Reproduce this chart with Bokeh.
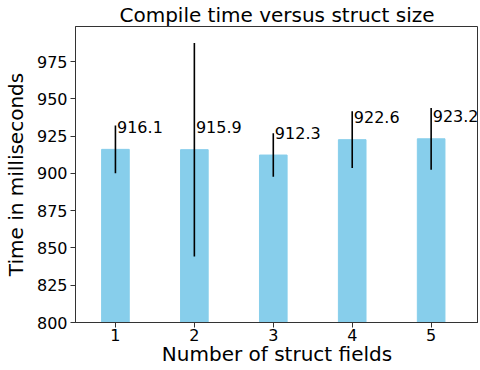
from bokeh.plotting import figure
from bokeh.models import Range1d, FixedTicker, ColumnDataSource, LabelSet
from bokeh.embed import file_html
from bokeh.resources import INLINE
from bokeh.core.properties import value

fields = [1, 2, 3, 4, 5]
times = [916.1, 915.9, 912.3, 922.6, 923.2]
errors = [16.0, 71.6, 14.6, 19.0, 20.7]
labels = ["916.1", "915.9", "912.3", "922.6", "923.2"]
y_ticks = [800, 825, 850, 875, 900, 925, 950, 975]

FONT = "DejaVu Sans"

p = figure(width=478, height=368, output_backend="svg", toolbar_location=None,
           x_range=Range1d(0.494, 5.6), y_range=Range1d(800, 998.5),
           title="Compile time versus struct size")
p.min_border_left = 67
p.min_border_right = 0
p.min_border_bottom = 0
p.min_border_top = 0

p.title.text_font = FONT
p.title.text_font_size = "20px"
p.title.text_font_style = "normal"
p.title.align = "center"
p.title.text_color = "black"
p.title.standoff = 0
p.title.offset = 0

p.vbar(x=fields, top=times, bottom=0, width=0.35, color="#87CEEB")
lo = [t - e for t, e in zip(times, errors)]
hi = [t + e for t, e in zip(times, errors)]
p.segment(x0=fields, y0=lo, x1=fields, y1=hi, line_color="black", line_width=1.6)

src = ColumnDataSource(dict(x=[f + 0.02 for f in fields], y=[t + 11 for t in times], text=labels))
p.add_layout(LabelSet(x="x", y="y", text="text", source=src,
                      text_font=value(FONT), text_font_size=value("16px"), text_color=value("black"),
                      text_baseline=value("alphabetic"), text_align=value("left")))

p.xgrid.visible = False
p.ygrid.visible = False
p.outline_line_color = "#333333"
p.outline_line_width = 1

p.xaxis.ticker = FixedTicker(ticks=fields)
p.yaxis.ticker = FixedTicker(ticks=y_ticks)
p.xaxis.axis_label = "Number of struct fields"
p.yaxis.axis_label = "Time in milliseconds"
for ax in (p.xaxis, p.yaxis):
    ax.axis_label_text_font = FONT
    ax.axis_label_text_font_size = "20px"
    ax.axis_label_text_font_style = "normal"
    ax.axis_label_text_color = "black"
    ax.major_label_text_font = FONT
    ax.major_label_text_font_size = "16px"
    ax.major_label_text_color = "black"
    ax.minor_tick_line_color = None
    ax.major_tick_out = 5
    ax.major_tick_in = 0
    ax.major_tick_line_color = "#333333"
    ax.axis_line_color = "#333333"
p.yaxis.major_label_standoff = 3
p.yaxis.axis_label_standoff = 6
p.xaxis.major_label_standoff = 1
p.xaxis.axis_label_standoff = -2

open("out.html", "w").write(file_html(p, INLINE))
